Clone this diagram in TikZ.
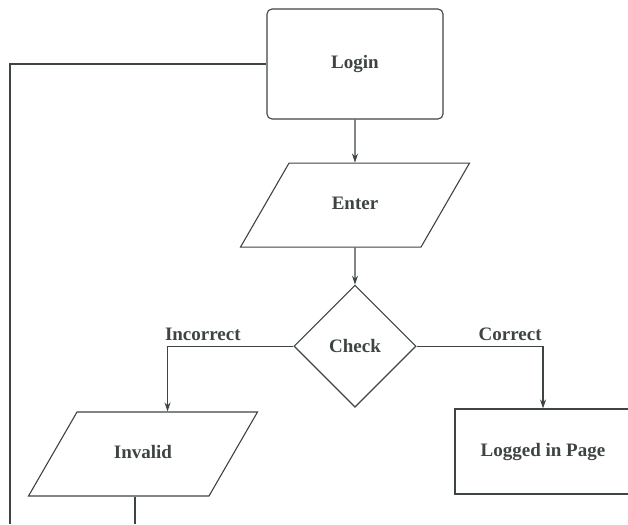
\documentclass[tikz,border=0pt]{standalone}
\usepackage{fontspec}
\setmainfont{Liberation Serif}
\usepackage{tikz}
\usetikzlibrary{arrows.meta,positioning,shapes.geometric}
\definecolor{ink}{RGB}{62,68,68}

\begin{document}
\begin{tikzpicture}[x=1pt,y=-1pt,->,>={Stealth[length=9pt,width=6pt]},line width=1.1pt,draw=ink,
  every node/.style={text=ink,font=\fontsize{19}{22}\selectfont\bfseries},
  term node/.style={rectangle,rounded corners=5pt,draw=ink,fill=white,minimum width=176pt,minimum height=110pt},
  io node/.style={trapezium,trapezium left angle=60,trapezium right angle=120,draw=ink,fill=white,
    text width=132pt,align=center,text height=13pt,text depth=4pt,inner xsep=0pt,inner ysep=33.5pt},
  dec node/.style={diamond,draw=ink,fill=white,minimum width=122pt,minimum height=122pt,inner sep=0pt},
  proc node/.style={rectangle,draw=ink,fill=white,minimum width=176pt,minimum height=85pt}]
  \useasboundingbox (0,0) rectangle (628,524);
  \node[term node] (login) at (355,64) {Login};
  \node[io node]   (enter) [below=43pt of login] {Enter};
  \node[dec node]  (check) [below=37pt of enter] {Check};
  \node[io node]   (invalid) at (143,454) {Invalid};
  \node[proc node] (logged) at (543,451.5) {Logged in Page};
  \coordinate (loopend) at (10,524);
  \coordinate (invend) at (135,524);

  \draw (login) -- (enter);
  \draw (enter) -- (check);
  \draw (check.west) -| node[pos=0.36,above=2pt] {Incorrect} (invalid.top side);
  \draw (check.east) -| node[pos=0.37,above=2pt] {Correct} (logged);
  \draw[-] (login.west) -| (loopend);
  \draw[-] (invend |- invalid.bottom side) -- (invend);
\end{tikzpicture}
\end{document}
